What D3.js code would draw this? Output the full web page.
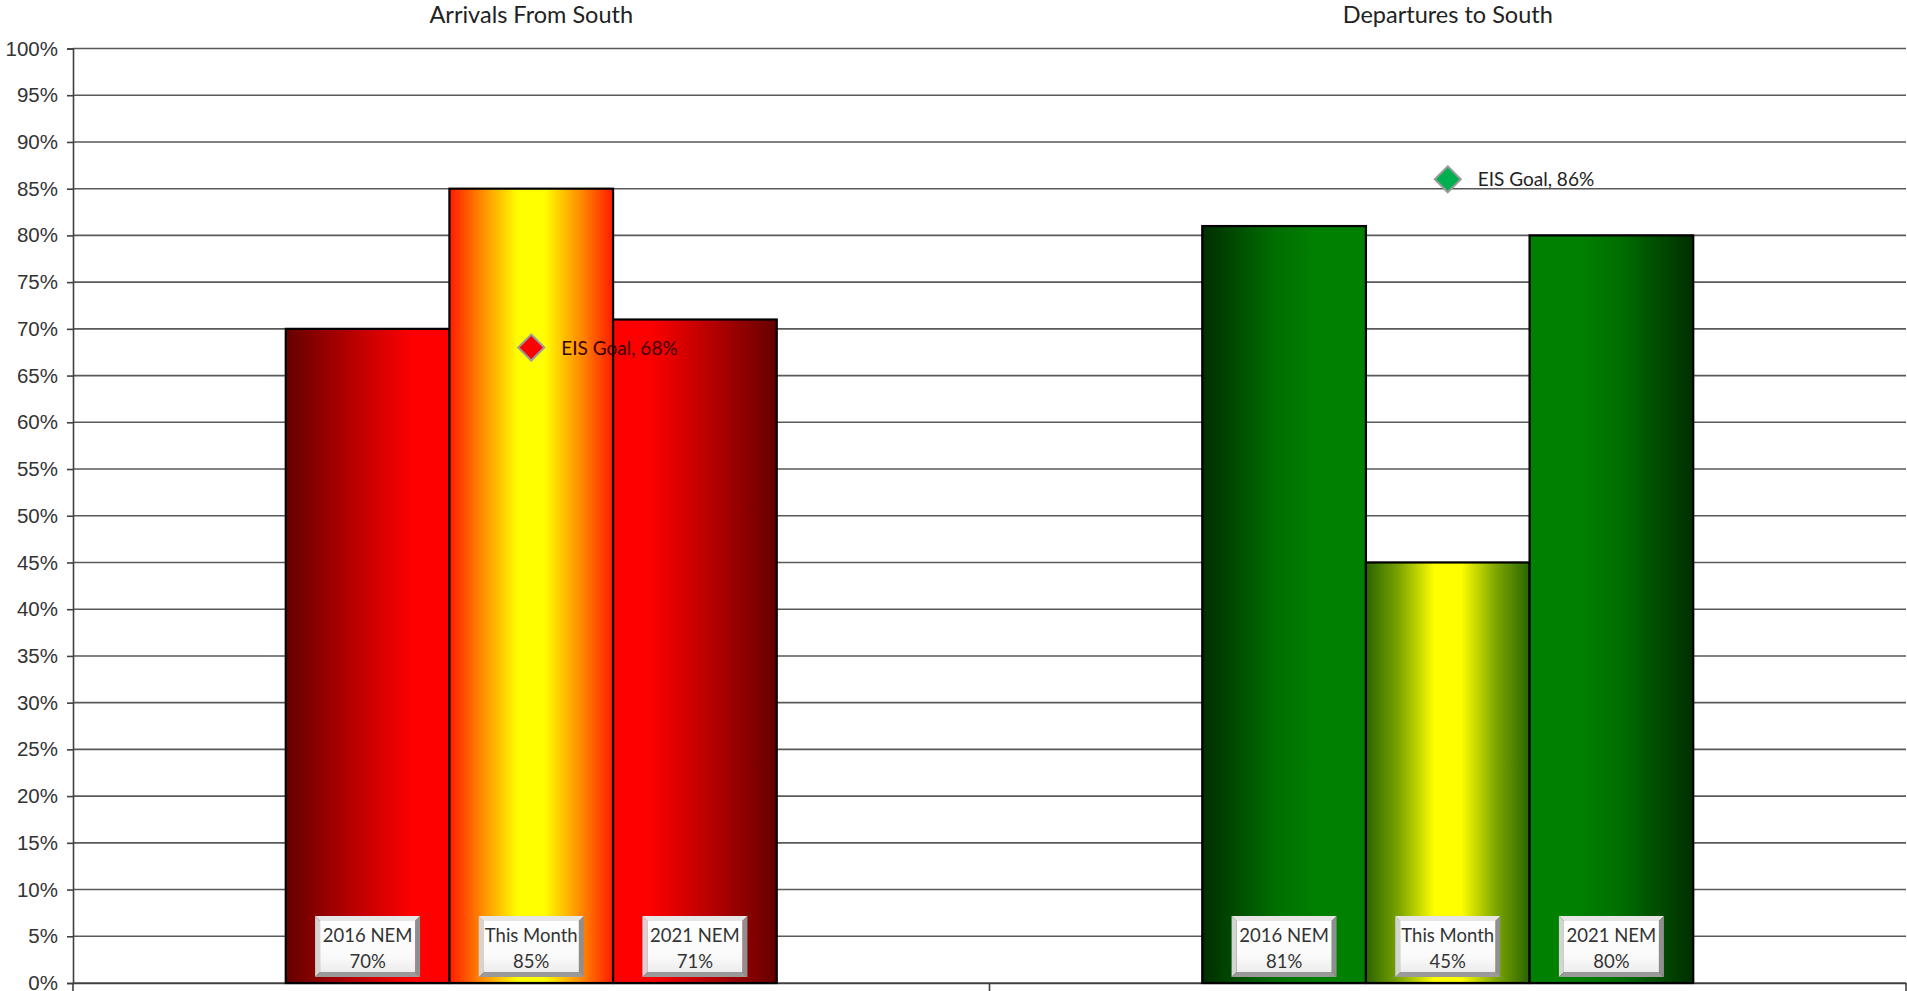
<!DOCTYPE html>
<html><head><meta charset="utf-8">
<script src="https://cdn.jsdelivr.net/npm/d3@7"></script>
<style>html,body{margin:0;padding:0;background:#fff;overflow:hidden}</style>
</head><body>
<svg id="c" width="1907" height="991"></svg>
<script>
const categories = ["Arrivals From South", "Departures to South"];
const series = ["2016 NEM", "This Month", "2021 NEM"];
const arrivals = [0.70, 0.85, 0.71];
const departures = [0.81, 0.45, 0.80];
const goals = [0.68, 0.86];
const goalLabels = ["EIS Goal, 68%", "EIS Goal, 86%"];
const yTicks = d3.range(0, 21).map(i => i * 0.05);

(function () {
const values = [arrivals, departures];
const svg = d3.select("#c");
const mLeft = 73, mRight = 1906, mTop = 48.5, mBottom = 983;

const x0 = d3.scaleBand().domain(categories).range([mLeft, mRight]).padding(0);
const x1 = d3.scaleBand().domain(series).range([0, x0.bandwidth()]).paddingInner(0).paddingOuter(1.3);
const y = d3.scaleLinear().domain([0, 1]).range([mBottom, mTop]);

const defs = svg.append("defs");
function lin(id, stops, vertical) {
  const g = defs.append("linearGradient").attr("id", id)
    .attr("x1", "0%").attr("x2", vertical ? "0%" : "100%").attr("y1", "0%").attr("y2", vertical ? "100%" : "0%");
  stops.forEach(s => g.append("stop").attr("offset", s[0]).attr("stop-color", s[1]));
}
lin("r0", [[0, "#650000"], [0.45, "#c00000"], [0.78, "#ff0000"], [1, "#ff0000"]]);
lin("r2", [[0, "#ff0000"], [0.22, "#ff0000"], [0.55, "#c00000"], [1, "#650000"]]);
lin("r1", [[0, "#ff1a00"], [0.2, "#ff8c00"], [0.42, "#ffff00"], [0.58, "#ffff00"], [0.8, "#ff8c00"], [1, "#ff1a00"]]);
lin("g0", [[0, "#002e00"], [0.45, "#006f00"], [0.7, "#008000"], [1, "#008000"]]);
lin("g2", [[0, "#008000"], [0.3, "#008000"], [0.55, "#006f00"], [1, "#002e00"]]);
lin("g1", [[0, "#2a6400"], [0.2, "#7aa400"], [0.42, "#ffff00"], [0.58, "#ffff00"], [0.8, "#7aa400"], [1, "#2a6400"]]);
lin("face", [[0, "#ffffff"], [0.7, "#fafafa"], [1, "#ececec"]], true);

svg.append("g").selectAll("line").data(yTicks).join("line")
  .attr("x1", mLeft).attr("x2", mRight)
  .attr("y1", d => y(d)).attr("y2", d => y(d))
  .attr("stroke", "#595959").attr("stroke-width", 1.6);

const yAxis = d3.axisLeft(y).tickValues(yTicks).tickFormat(d3.format(".0%")).tickSize(6).tickPadding(9);
const ya = svg.append("g").attr("transform", `translate(${mLeft},0)`).call(yAxis);
ya.select(".domain").attr("stroke", "#404040").attr("stroke-width", 1.6);
ya.selectAll(".tick line").attr("stroke", "#404040").attr("stroke-width", 1.6);
ya.selectAll(".tick text").attr("font-family", "Liberation Sans, Arial, sans-serif").attr("font-size", 20.5).attr("fill", "#333");

const xAxis = d3.axisBottom(x0).tickValues([]).tickSizeOuter(0);
const xa = svg.append("g").attr("transform", `translate(0,${mBottom})`).call(xAxis);
xa.select(".domain").attr("stroke", "#404040").attr("stroke-width", 1.6);
const bounds = [mLeft, x0(categories[1]), mRight];
svg.append("g").selectAll("line").data(bounds).join("line")
  .attr("x1", d => d).attr("x2", d => d).attr("y1", mBottom).attr("y2", mBottom + 8)
  .attr("stroke", "#404040").attr("stroke-width", 1.6);

svg.append("g").selectAll("text").data(categories).join("text")
  .attr("x", d => x0(d) + x0.bandwidth() / 2).attr("y", 23)
  .attr("text-anchor", "middle").attr("font-family", "Lato, sans-serif").attr("font-size", 23.5).attr("fill", "#222")
  .text(d => d);

const fills = [["r0", "r1", "r2"], ["g0", "g1", "g2"]];
categories.forEach((c, ci) => {
  const g = svg.append("g").attr("transform", `translate(${x0(c)},0)`);
  g.selectAll("rect.bar").data(values[ci]).join("rect").attr("class", "bar")
    .attr("x", (d, i) => x1(series[i])).attr("width", x1.bandwidth())
    .attr("y", d => y(d)).attr("height", d => y(0) - y(d))
    .attr("fill", (d, i) => `url(#${fills[ci][i]})`)
    .attr("stroke", "#000").attr("stroke-width", 2.2);
  const bw = 105, bh = 61, e = 5;
  const lb = g.selectAll("g.lab").data(values[ci]).join("g").attr("class", "lab")
    .attr("transform", (d, i) => `translate(${x1(series[i]) + x1.bandwidth() / 2},${y(0) - 6 - bh / 2})`);
  const L = -bw / 2, R = bw / 2, T = -bh / 2, B = bh / 2;
  lb.append("path").attr("d", `M${L},${T}L${R},${T}L${R - e},${T + e}L${L + e},${T + e}Z`).attr("fill", "#e6e6e6");
  lb.append("path").attr("d", `M${L},${T}L${L + e},${T + e}L${L + e},${B - e}L${L},${B}Z`).attr("fill", "#d4d4d4");
  lb.append("path").attr("d", `M${R},${T}L${R},${B}L${R - e},${B - e}L${R - e},${T + e}Z`).attr("fill", "#8f8f8f");
  lb.append("path").attr("d", `M${L},${B}L${R},${B}L${R - e},${B - e}L${L + e},${B - e}Z`).attr("fill", "#9a9a9a");
  lb.append("rect").attr("x", L + e).attr("y", T + e).attr("width", bw - 2 * e).attr("height", bh - 2 * e).attr("fill", "url(#face)");
  lb.append("text").attr("text-anchor", "middle").attr("y", -4.5)
    .attr("font-family", "Lato, sans-serif").attr("font-size", 18.5).attr("fill", "#333")
    .text((d, i) => series[i]);
  lb.append("text").attr("text-anchor", "middle").attr("y", 21)
    .attr("font-family", "Lato, sans-serif").attr("font-size", 18.5).attr("fill", "#333")
    .text(d => d3.format(".0%")(d));
  const cx = x0.bandwidth() / 2, cy = y(goals[ci]);
  const s = 13;
  g.append("path").attr("d", `M${cx},${cy - s}L${cx + s},${cy}L${cx},${cy + s}L${cx - s},${cy}Z`)
    .attr("fill", ci === 0 ? "#ff0000" : "#00b050").attr("stroke", "#9a9a9a").attr("stroke-width", 2);
  g.append("text").attr("x", cx + 30).attr("y", cy + 7)
    .attr("font-family", "Lato, sans-serif").attr("font-size", 19).attr("fill", ci === 0 ? "#3a0000" : "#222")
    .text(goalLabels[ci]);
});
})();
</script>
</body></html>
